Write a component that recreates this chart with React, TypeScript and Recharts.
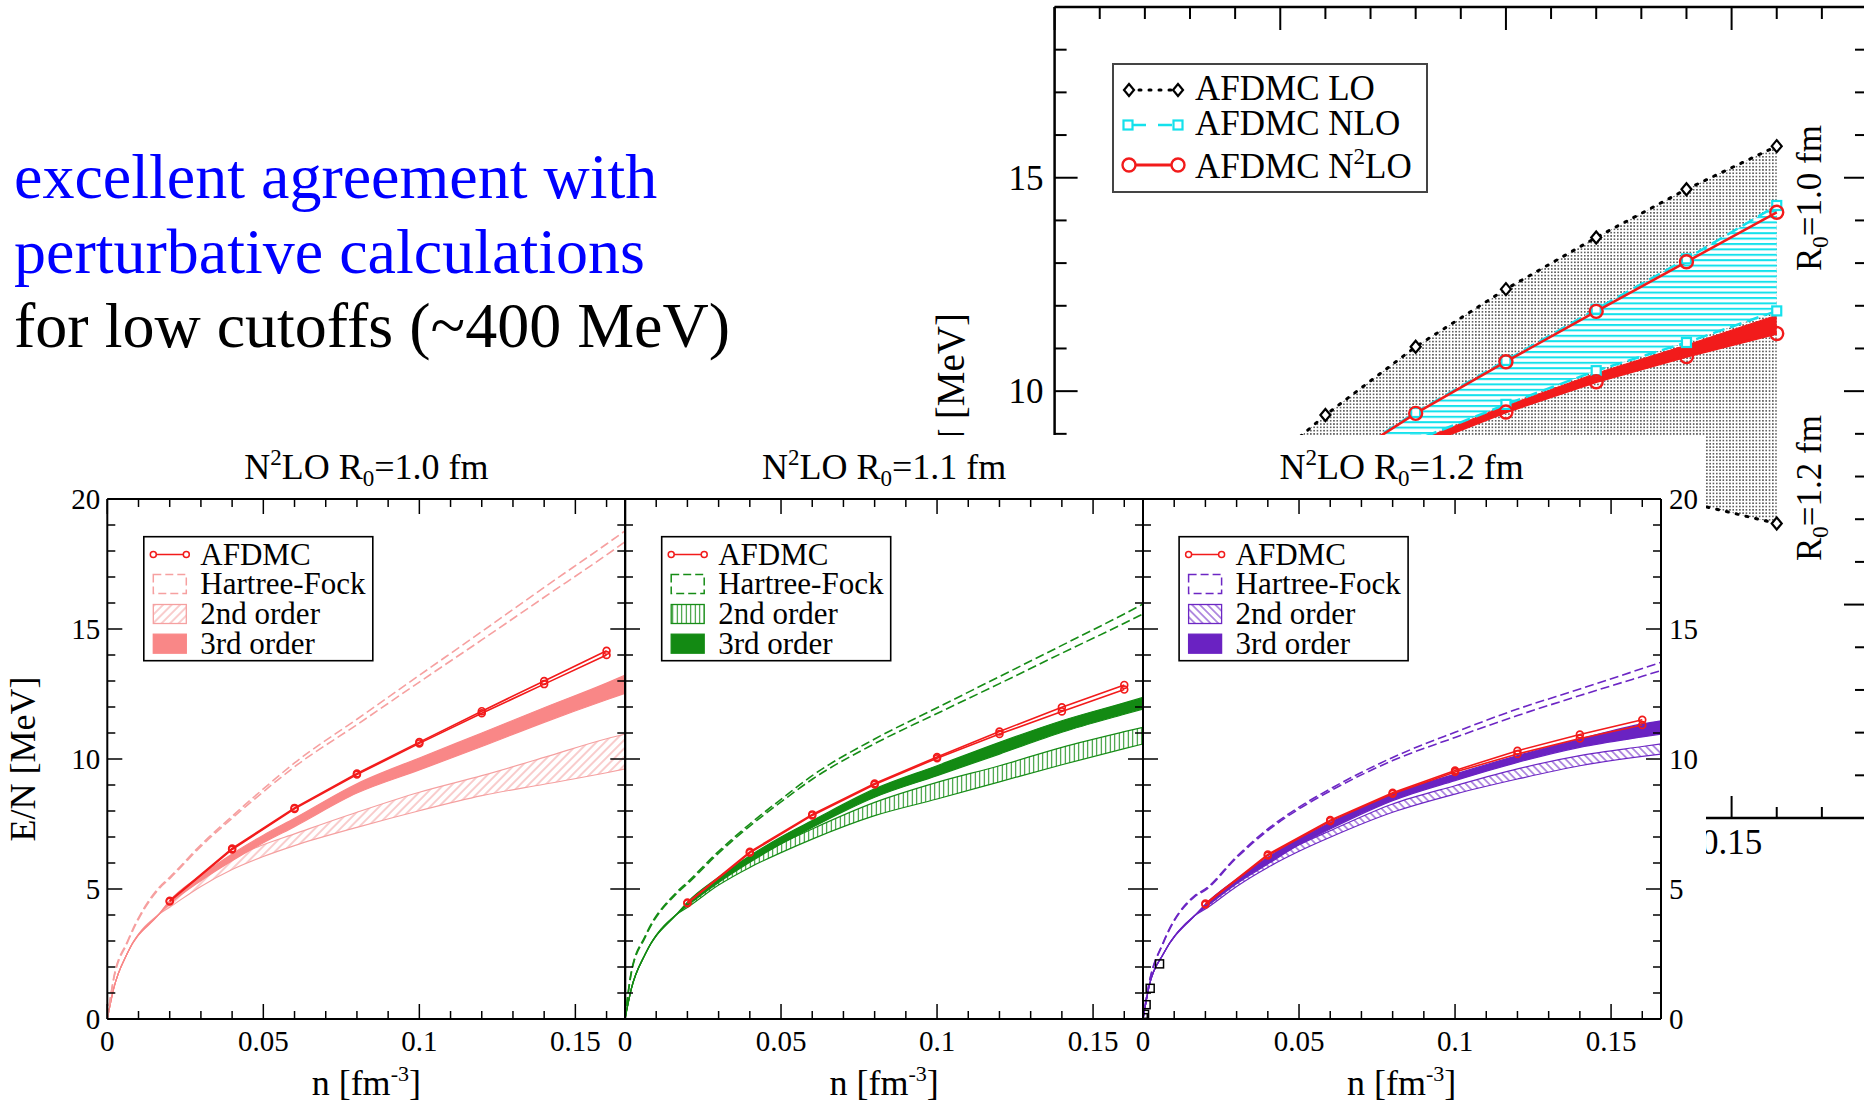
import React from 'react';
import { ComposedChart, Line, Area, XAxis, YAxis } from 'recharts';

const SERIF = '"Liberation Serif", "Times New Roman", Times, serif';

// page geometry
const PAGE_W = 1864;
const PAGE_H = 1105;
const COVER_TOP = 435;
const COVER_RIGHT = 1706;

// bottom panels
const PANEL_LEFTS = [107.3, 625.2, 1142.6];
const PLOT_TOP = 499;
const PLOT_W = 518;
const PLOT_H = 520;

// top-right inset
const INSET_LEFT = 1054.6;
const INSET_TOP = 7;
const INSET_W = 812.4;
const INSET_H = 811;

// axes get a 1px box (a zero-sized axis is not drawn); margins give that pixel back
const AX = 1;

const RED = '#f21b1b';
const CYAN = '#14e1ec';

// ---------- data: bottom panels ----------
const nBand = [0, 0.002, 0.0065, 0.0165, 0.02, 0.03, 0.04, 0.05, 0.06, 0.08, 0.1, 0.12, 0.14, 0.16, 0.166];
const nAfdmc = [0.02, 0.04, 0.06, 0.08, 0.1, 0.12, 0.14, 0.16];

// R0 = 1.0 fm
const hf10Hi = [0, 1.55, 3.0, 5.05, 5.45, 6.7, 7.8, 8.85, 9.85, 11.53, 13.22, 14.9, 16.6, 18.27, 18.78];
const hf10Lo = [0, 1.5, 2.95, 5.0, 5.4, 6.64, 7.72, 8.74, 9.7, 11.32, 12.96, 14.58, 16.22, 17.85, 18.36];
const second10Lo = [0, 1.15, 2.55, 4.02, 4.3, 5.1, 5.75, 6.25, 6.67, 7.37, 8.01, 8.59, 9.03, 9.47, 9.62];
const second10Hi = [0, 1.15, 2.55, 4.02, 4.5, 5.45, 6.2, 6.7, 7.12, 7.95, 8.72, 9.36, 10.06, 10.78, 10.96];
const third10Lo = [0, 1.15, 2.55, 4.02, 4.42, 5.32, 6.09, 6.78, 7.4, 8.69, 9.58, 10.48, 11.41, 12.28, 12.53];
const third10Hi = [0, 1.15, 2.55, 4.02, 4.55, 5.52, 6.35, 7.07, 7.72, 9.05, 10.04, 11.0, 11.97, 12.92, 13.23];
const afdmc10A = [4.55, 6.56, 8.12, 9.44, 10.65, 11.84, 13.0, 14.16];
const afdmc10B = [4.52, 6.52, 8.08, 9.4, 10.6, 11.76, 12.88, 14.0];

// R0 = 1.1 fm
const hf11Hi = [0, 1.8, 3.2, 4.87, 5.26, 6.45, 7.5, 8.45, 9.36, 10.77, 11.97, 13.17, 14.37, 15.58, 15.96];
const hf11Lo = [0, 1.75, 3.15, 4.82, 5.2, 6.38, 7.42, 8.35, 9.22, 10.59, 11.75, 12.9, 14.07, 15.22, 15.58];
const second11Lo = [0, 1.15, 2.5, 4.02, 4.29, 5.15, 5.83, 6.4, 6.92, 7.82, 8.46, 9.12, 9.78, 10.4, 10.58];
const second11Hi = [0, 1.15, 2.5, 4.02, 4.42, 5.35, 6.15, 6.75, 7.31, 8.33, 9.1, 9.74, 10.45, 11.05, 11.22];
const third11Lo = [0, 1.15, 2.5, 4.02, 4.36, 5.25, 6.03, 6.73, 7.37, 8.53, 9.36, 10.19, 11.03, 11.72, 11.92];
const third11Hi = [0, 1.15, 2.5, 4.02, 4.49, 5.45, 6.28, 7.0, 7.63, 8.85, 9.74, 10.64, 11.47, 12.16, 12.37];
const afdmc11A = [4.48, 6.43, 7.87, 9.06, 10.08, 11.06, 11.99, 12.85];
const afdmc11B = [4.45, 6.39, 7.83, 9.02, 10.03, 10.96, 11.83, 12.67];

// R0 = 1.2 fm
const hf12Hi = [0, 1.41, 2.95, 4.74, 5.0, 6.25, 7.31, 8.15, 8.85, 10.06, 11.03, 11.92, 12.69, 13.48, 13.72];
const hf12Lo = [0, 1.38, 2.92, 4.7, 4.96, 6.2, 7.25, 8.08, 8.77, 9.94, 10.83, 11.67, 12.44, 13.18, 13.4];
const second12Lo = [0, 1.28, 2.5, 3.97, 4.23, 5.1, 5.83, 6.45, 6.99, 7.95, 8.65, 9.23, 9.74, 10.1, 10.19];
const second12Hi = [0, 1.28, 2.5, 3.97, 4.36, 5.27, 6.09, 6.7, 7.24, 8.27, 8.97, 9.62, 10.13, 10.48, 10.58];
const third12Lo = [0, 1.28, 2.5, 3.97, 4.29, 5.2, 5.96, 6.7, 7.31, 8.4, 9.17, 9.87, 10.45, 10.85, 10.96];
const third12Hi = [0, 1.28, 2.5, 3.97, 4.42, 5.38, 6.22, 6.93, 7.56, 8.65, 9.42, 10.13, 10.77, 11.35, 11.47];
const afdmc12A = [4.44, 6.33, 7.65, 8.7, 9.56, 10.32, 10.94, 11.51];
const afdmc12B = [4.4, 6.29, 7.61, 8.66, 9.5, 10.19, 10.79, 11.31];
const lowN12 = [0.0001, 0.0005, 0.001, 0.0023, 0.0053];
const lowE12 = [0.05, 0.18, 0.55, 1.18, 2.12];

// ---------- data: inset (AFDMC LO / NLO / N2LO, R0 = 1.0 and 1.2 fm) ----------
const nInset = [0.02, 0.04, 0.06, 0.08, 0.1, 0.12, 0.14, 0.16];
const lo10 = [5.3, 7.64, 9.44, 11.04, 12.39, 13.6, 14.73, 15.74];
const lo12 = [4.1, 5.7, 6.7, 7.3, 7.6, 7.6, 7.4, 6.9];
const nlo10 = [4.6, 6.6, 8.15, 9.5, 10.72, 11.92, 13.1, 14.35];
const nlo12 = [4.4, 6.2, 7.6, 8.85, 9.69, 10.48, 11.14, 11.88];
const n2lo10 = [4.55, 6.56, 8.12, 9.48, 10.69, 11.87, 13.03, 14.19];
const n2lo12 = [4.42, 6.31, 7.63, 8.68, 9.51, 10.22, 10.81, 11.35];
const n2loBandHi = [4.5, 6.4, 7.75, 8.82, 9.66, 10.42, 11.08, 11.78];

// ---------- ticks ----------
const xTicks = [0, 0.01, 0.02, 0.03, 0.04, 0.05, 0.06, 0.07, 0.08, 0.09, 0.1, 0.11, 0.12, 0.13, 0.14, 0.15, 0.16];
const yTicks = [0, 1, 2, 3, 4, 5, 6, 7, 8, 9, 10, 11, 12, 13, 14, 15, 16, 17, 18, 19, 20];
const insetXTicks = [0, 0.01, 0.02, 0.03, 0.04, 0.05, 0.06, 0.07, 0.08, 0.09, 0.1, 0.11, 0.12, 0.13, 0.14, 0.15, 0.16, 0.17, 0.18];
const insetYTicks = [0, 1, 2, 3, 4, 5, 6, 7, 8, 9, 10, 11, 12, 13, 14, 15, 16, 17, 18, 19];

const bandRows = (xs: number[], lo: number[], hi: number[]) => xs.map((n, i) => ({ n, lo: lo[i], hi: hi[i] }));
const pts = (xs: number[], ys: number[]) => xs.map((n, i) => ({ n, e: ys[i] }));
const range = (d: any) => [d.lo, d.hi];

const isMul = (v: number, step: number) => {
  const q = v / step;
  return Math.abs(q - Math.round(q)) < 1e-6;
};

type Side = 'top' | 'bottom' | 'left' | 'right';

// inward ticks (xmgrace style) + optional labels on major ticks
function makeTick(side: Side, step: number, majorLen: number, minorLen: number, label: boolean, fontSize: number, gap: number, sw: number) {
  return (props: any) => {
    const { x, y, payload } = props;
    const v = payload.value;
    const major = isMul(v, step);
    const len = major ? majorLen : minorLen;
    let x2 = x, y2 = y, tx = x, ty = y;
    let anchor: 'middle' | 'end' | 'start' = 'middle';
    if (side === 'bottom') { y2 = y - len; ty = y + gap; }
    else if (side === 'top') { y2 = y + len; }
    else if (side === 'left') { x2 = x + len; tx = x - gap; ty = y + fontSize * 0.34; anchor = 'end'; }
    else { x2 = x - len; tx = x + gap; ty = y + fontSize * 0.34; anchor = 'start'; }
    return (
      <g>
        <line x1={x} y1={y} x2={x2} y2={y2} stroke="#000" strokeWidth={sw} />
        {label && major && (
          <text x={tx} y={ty} textAnchor={anchor} fontSize={fontSize} fontFamily={SERIF} fill="#000">
            {String(v)}
          </text>
        )}
      </g>
    );
  };
}

function Hatch({ id, color, angle, gap, width }: { id: string; color: string; angle: number; gap: number; width: number }) {
  return (
    <pattern id={id} width={gap} height={gap} patternUnits="userSpaceOnUse" patternTransform={`rotate(${angle})`}>
      <line x1={gap / 2} y1={0} x2={gap / 2} y2={gap} stroke={color} strokeWidth={width} />
    </pattern>
  );
}

type PanelCfg = {
  key: string;
  r0: string;
  left: number;
  ml: number;
  mr: number;
  hfColor: string;
  edge2: string;
  hatchColor: string;
  hatchAngle: number;
  hatchGap: number;
  band3: string;
  hfHi: number[];
  hfLo: number[];
  s2Lo: number[];
  s2Hi: number[];
  s3Lo: number[];
  s3Hi: number[];
  afA: number[];
  afB: number[];
  leftLabels: boolean;
  rightLabels: boolean;
  squares?: boolean;
};

const panels: PanelCfg[] = [
  {
    key: 'p10', r0: '1.0', left: PANEL_LEFTS[0], ml: 107.3, mr: 30,
    hfColor: '#f6a0a0', edge2: '#f5a0a0', hatchColor: '#f29a9a', hatchAngle: 45, hatchGap: 6,
    band3: '#f98787',
    hfHi: hf10Hi, hfLo: hf10Lo, s2Lo: second10Lo, s2Hi: second10Hi, s3Lo: third10Lo, s3Hi: third10Hi,
    afA: afdmc10A, afB: afdmc10B, leftLabels: true, rightLabels: false,
  },
  {
    key: 'p11', r0: '1.1', left: PANEL_LEFTS[1], ml: 30, mr: 30,
    hfColor: '#168c16', edge2: '#168c16', hatchColor: '#168c16', hatchAngle: 0, hatchGap: 4.5,
    band3: '#138a13',
    hfHi: hf11Hi, hfLo: hf11Lo, s2Lo: second11Lo, s2Hi: second11Hi, s3Lo: third11Lo, s3Hi: third11Hi,
    afA: afdmc11A, afB: afdmc11B, leftLabels: false, rightLabels: false,
  },
  {
    key: 'p12', r0: '1.2', left: PANEL_LEFTS[2], ml: 30, mr: 60,
    hfColor: '#6c26c4', edge2: '#6c26c4', hatchColor: '#6c26c4', hatchAngle: -45, hatchGap: 5.5,
    band3: '#6a22c2',
    hfHi: hf12Hi, hfLo: hf12Lo, s2Lo: second12Lo, s2Hi: second12Hi, s3Lo: third12Lo, s3Hi: third12Hi,
    afA: afdmc12A, afB: afdmc12B, leftLabels: false, rightLabels: true, squares: true,
  },
];

const afdmcDot = (p: any) => (
  <circle key={`c-${p.index}`} cx={p.cx} cy={p.cy} r={3.4} fill="none" stroke={RED} strokeWidth={1.7} />
);
const blackSquare = (p: any) => (
  <rect key={`s-${p.index}`} x={p.cx - 4} y={p.cy - 4} width={8} height={8} fill="none" stroke="#000" strokeWidth={1.5} />
);

function Panel({ cfg }: { cfg: PanelCfg }) {
  const h = PAGE_H - COVER_TOP;
  const top = PLOT_TOP - COVER_TOP;
  const bottom = h - top - PLOT_H;
  const hatchId = `hatch-${cfg.key}`;
  const axisLine = { stroke: '#000', strokeWidth: 2 };
  return (
    <div style={{ position: 'absolute', left: cfg.left - cfg.ml, top: COVER_TOP }}>
      <ComposedChart width={cfg.ml + PLOT_W + cfg.mr} height={h}
        margin={{ top: top - AX, right: cfg.mr - AX, bottom: bottom - AX, left: cfg.ml - AX }}>
        <defs>
          <Hatch id={hatchId} color={cfg.hatchColor} angle={cfg.hatchAngle} gap={cfg.hatchGap} width={1} />
        </defs>
        <XAxis xAxisId="b" type="number" dataKey="n" domain={[0, 0.166]} allowDataOverflow ticks={xTicks} interval={0}
          height={AX} tickSize={0} tickMargin={0} tickLine={false} axisLine={axisLine}
          tick={makeTick('bottom', 0.05, 15, 8, true, 29, 32, 1.5)} />
        <XAxis xAxisId="t" orientation="top" type="number" dataKey="n" domain={[0, 0.166]} allowDataOverflow ticks={xTicks} interval={0}
          height={AX} tickSize={0} tickMargin={0} tickLine={false} axisLine={axisLine}
          tick={makeTick('top', 0.05, 15, 8, false, 29, 0, 1.5)} />
        <YAxis yAxisId="l" type="number" domain={[0, 20]} allowDataOverflow ticks={yTicks} interval={0}
          width={AX} tickSize={0} tickMargin={0} tickLine={false} axisLine={axisLine}
          tick={makeTick('left', 5, 15, 8, cfg.leftLabels, 29, 7, 1.5)} />
        <YAxis yAxisId="r" orientation="right" type="number" domain={[0, 20]} allowDataOverflow ticks={yTicks} interval={0}
          width={AX} tickSize={0} tickMargin={0} tickLine={false} axisLine={axisLine}
          tick={makeTick('right', 5, 15, 8, cfg.rightLabels, 29, 8, 1.5)} />

        <Area xAxisId="b" yAxisId="l" data={bandRows(nBand, cfg.s2Lo, cfg.s2Hi)} dataKey={range} type="monotone"
          fill={`url(#${hatchId})`} fillOpacity={1} stroke={cfg.edge2} strokeWidth={1.2} dot={false} activeDot={false} isAnimationActive={false} />
        <Area xAxisId="b" yAxisId="l" data={bandRows(nBand, cfg.s3Lo, cfg.s3Hi)} dataKey={range} type="monotone"
          fill={cfg.band3} fillOpacity={1} stroke={cfg.band3} strokeWidth={1.2} dot={false} activeDot={false} isAnimationActive={false} />
        <Line xAxisId="b" yAxisId="l" data={pts(nBand, cfg.hfHi)} dataKey="e" type="monotone" stroke={cfg.hfColor}
          strokeWidth={1.6} strokeDasharray="9 4" dot={false} activeDot={false} isAnimationActive={false} />
        <Line xAxisId="b" yAxisId="l" data={pts(nBand, cfg.hfLo)} dataKey="e" type="monotone" stroke={cfg.hfColor}
          strokeWidth={1.6} strokeDasharray="9 4" dot={false} activeDot={false} isAnimationActive={false} />
        <Line xAxisId="b" yAxisId="l" data={pts(nAfdmc, cfg.afB)} dataKey="e" type="linear" stroke={RED}
          strokeWidth={1.6} dot={afdmcDot} activeDot={false} isAnimationActive={false} />
        <Line xAxisId="b" yAxisId="l" data={pts(nAfdmc, cfg.afA)} dataKey="e" type="linear" stroke={RED}
          strokeWidth={1.6} dot={afdmcDot} activeDot={false} isAnimationActive={false} />
        {cfg.squares && (
          <Line xAxisId="b" yAxisId="l" data={pts(lowN12, lowE12)} dataKey="e" stroke="none"
            dot={blackSquare} activeDot={false} isAnimationActive={false} />
        )}
      </ComposedChart>
    </div>
  );
}

const diamond = (p: any) => (
  <path key={`d-${p.index}`} d={`M${p.cx},${p.cy - 6} L${p.cx + 5},${p.cy} L${p.cx},${p.cy + 6} L${p.cx - 5},${p.cy} Z`}
    fill="#fff" stroke="#000" strokeWidth={2.2} />
);
const cyanSquare = (p: any) => (
  <rect key={`q-${p.index}`} x={p.cx - 4.5} y={p.cy - 4.5} width={9} height={9} fill="#fff" stroke={CYAN} strokeWidth={2.2} />
);
const redCircle = (p: any) => (
  <circle key={`r-${p.index}`} cx={p.cx} cy={p.cy} r={6.5} fill="none" stroke={RED} strokeWidth={2.4} />
);

function Inset() {
  const w = 1000;
  const h = 900;
  const ml = 154.6;
  const mr = w - ml - INSET_W;
  const mb = h - INSET_TOP - INSET_H;
  const axisLine = { stroke: '#000', strokeWidth: 2.5 };
  return (
    <div style={{ position: 'absolute', left: INSET_LEFT - ml, top: 0 }}>
      <ComposedChart width={w} height={h} margin={{ top: INSET_TOP - AX, right: mr - AX, bottom: mb - AX, left: ml - AX }}>
        <defs>
          <pattern id="inset-dots" width={3.3} height={3.3} patternUnits="userSpaceOnUse">
            <rect width={3.3} height={3.3} fill="#fff" />
            <circle cx={1.65} cy={1.65} r={0.78} fill="#1a1a1a" />
          </pattern>
          <pattern id="inset-cyan" width={5.4} height={5.4} patternUnits="userSpaceOnUse">
            <rect width={5.4} height={5.4} fill="#fff" />
            <rect width={5.4} height={2} fill={CYAN} />
          </pattern>
        </defs>
        <XAxis xAxisId="b" type="number" dataKey="n" domain={[0, 0.18]} allowDataOverflow ticks={insetXTicks} interval={0}
          height={AX} tickSize={0} tickMargin={0} tickLine={false} axisLine={axisLine}
          tick={makeTick('bottom', 0.05, 22, 11, true, 35, 36, 2)} />
        <XAxis xAxisId="t" orientation="top" type="number" dataKey="n" domain={[0, 0.18]} allowDataOverflow ticks={insetXTicks} interval={0}
          height={AX} tickSize={0} tickMargin={0} tickLine={false} axisLine={axisLine}
          tick={makeTick('top', 0.05, 23, 12, false, 35, 0, 2)} />
        <YAxis yAxisId="l" type="number" domain={[0, 19]} allowDataOverflow ticks={insetYTicks} interval={0}
          width={AX} tickSize={0} tickMargin={0} tickLine={false} axisLine={axisLine}
          tick={makeTick('left', 5, 23, 12, true, 35, 11, 2)} />
        <YAxis yAxisId="r" orientation="right" type="number" domain={[0, 19]} allowDataOverflow ticks={insetYTicks} interval={0}
          width={AX} tickSize={0} tickMargin={0} tickLine={false} axisLine={axisLine}
          tick={makeTick('right', 5, 23, 12, false, 35, 0, 2)} />

        <Area xAxisId="b" yAxisId="l" data={bandRows(nInset, lo12, lo10)} dataKey={range} type="linear"
          fill="url(#inset-dots)" fillOpacity={1} stroke="none" dot={false} activeDot={false} isAnimationActive={false} />
        <Area xAxisId="b" yAxisId="l" data={bandRows(nInset, nlo12, nlo10)} dataKey={range} type="linear"
          fill="url(#inset-cyan)" fillOpacity={1} stroke="none" dot={false} activeDot={false} isAnimationActive={false} />
        <Area xAxisId="b" yAxisId="l" data={bandRows(nInset, n2lo12, n2loBandHi)} dataKey={range} type="linear"
          fill={RED} fillOpacity={1} stroke={RED} strokeWidth={1} dot={false} activeDot={false} isAnimationActive={false} />

        <Line xAxisId="b" yAxisId="l" data={pts(nInset, lo10)} dataKey="e" type="linear" stroke="#000" strokeWidth={3}
          strokeDasharray="2 8" strokeLinecap="round" dot={diamond} activeDot={false} isAnimationActive={false} />
        <Line xAxisId="b" yAxisId="l" data={pts(nInset, lo12)} dataKey="e" type="linear" stroke="#000" strokeWidth={3}
          strokeDasharray="2 8" strokeLinecap="round" dot={diamond} activeDot={false} isAnimationActive={false} />
        <Line xAxisId="b" yAxisId="l" data={pts(nInset, nlo10)} dataKey="e" type="linear" stroke={CYAN} strokeWidth={2.5}
          strokeDasharray="12 6" dot={cyanSquare} activeDot={false} isAnimationActive={false} />
        <Line xAxisId="b" yAxisId="l" data={pts(nInset, nlo12)} dataKey="e" type="linear" stroke={CYAN} strokeWidth={2.5}
          strokeDasharray="12 6" dot={cyanSquare} activeDot={false} isAnimationActive={false} />
        <Line xAxisId="b" yAxisId="l" data={pts(nInset, n2lo10)} dataKey="e" type="linear" stroke={RED} strokeWidth={2.5}
          dot={redCircle} activeDot={false} isAnimationActive={false} />
        <Line xAxisId="b" yAxisId="l" data={pts(nInset, n2lo12)} dataKey="e" type="linear" stroke={RED} strokeWidth={2.5}
          dot={redCircle} activeDot={false} isAnimationActive={false} />
      </ComposedChart>
    </div>
  );
}

function InsetTexts() {
  const bx = 1113;
  const rows = [90, 125, 165];
  const base = [100, 135, 178];
  return (
    <svg width={PAGE_W} height={PAGE_H} style={{ position: 'absolute', left: 0, top: 0, pointerEvents: 'none' }}
      fontFamily={SERIF}>
      <rect x={bx} y={64} width={314} height={128} fill="#fff" stroke="#444" strokeWidth={2} />
      <line x1={1129} y1={rows[0]} x2={1178} y2={rows[0]} stroke="#000" strokeWidth={3} strokeDasharray="2 8" strokeLinecap="round" />
      <path d={`M1129,${rows[0] - 6} L1134,${rows[0]} L1129,${rows[0] + 6} L1124,${rows[0]} Z`} fill="#fff" stroke="#000" strokeWidth={2.2} />
      <path d={`M1178,${rows[0] - 6} L1183,${rows[0]} L1178,${rows[0] + 6} L1173,${rows[0]} Z`} fill="#fff" stroke="#000" strokeWidth={2.2} />
      <line x1={1128} y1={rows[1]} x2={1178} y2={rows[1]} stroke={CYAN} strokeWidth={2.5} strokeDasharray="14 12" strokeDashoffset={-4} />
      <rect x={1123.5} y={rows[1] - 4.5} width={9} height={9} fill="#fff" stroke={CYAN} strokeWidth={2.2} />
      <rect x={1173.5} y={rows[1] - 4.5} width={9} height={9} fill="#fff" stroke={CYAN} strokeWidth={2.2} />
      <line x1={1129} y1={rows[2]} x2={1178} y2={rows[2]} stroke={RED} strokeWidth={3} />
      <circle cx={1129} cy={rows[2]} r={6.5} fill="#fff" stroke={RED} strokeWidth={2.4} />
      <circle cx={1178} cy={rows[2]} r={6.5} fill="#fff" stroke={RED} strokeWidth={2.4} />
      <text x={1195} y={base[0]} fontSize={35}>AFDMC LO</text>
      <text x={1195} y={base[1]} fontSize={35}>AFDMC NLO</text>
      <text x={1195} y={base[2]} fontSize={35}>
        AFDMC N<tspan dy={-14} fontSize={23}>2</tspan><tspan dy={14}>LO</tspan>
      </text>
      <text transform="translate(964,313) rotate(-90)" textAnchor="end" fontSize={39}>E/N [MeV]</text>
      <text transform="translate(1821,198) rotate(-90)" textAnchor="middle" fontSize={35}>
        R<tspan dy={7} fontSize={23}>0</tspan><tspan dy={-7}>=1.0 fm</tspan>
      </text>
      <text transform="translate(1821,488) rotate(-90)" textAnchor="middle" fontSize={35}>
        R<tspan dy={7} fontSize={23}>0</tspan><tspan dy={-7}>=1.2 fm</tspan>
      </text>
    </svg>
  );
}

function LegendBox({ cfg }: { cfg: PanelCfg }) {
  const bx = cfg.left + 36.5;
  const by = 536.7;
  const rows = [17.8, 47.3, 77.3, 107].map((d) => by + d);
  const sx1 = cfg.left + 46;
  const sx2 = cfg.left + 79;
  const tx = cfg.left + 93;
  const lgHatch = `lg-hatch-${cfg.key}`;
  return (
    <g>
      <defs>
        <Hatch id={lgHatch} color={cfg.hatchColor} angle={cfg.hatchAngle} gap={cfg.hatchGap} width={1} />
      </defs>
      <rect x={bx} y={by} width={229} height={124} fill="#fff" stroke="#000" strokeWidth={1.6} />
      <line x1={sx1} y1={rows[0]} x2={sx2} y2={rows[0]} stroke={RED} strokeWidth={1.6} />
      <circle cx={sx1} cy={rows[0]} r={3} fill="#fff" stroke={RED} strokeWidth={1.5} />
      <circle cx={sx2} cy={rows[0]} r={3} fill="#fff" stroke={RED} strokeWidth={1.5} />
      <rect x={sx1} y={rows[1] - 9.5} width={33} height={19} fill="none" stroke={cfg.hfColor} strokeWidth={1.5} strokeDasharray="8 4" />
      <rect x={sx1} y={rows[2] - 9.5} width={33} height={19} fill={`url(#${lgHatch})`} stroke={cfg.edge2} strokeWidth={1.3} />
      <rect x={sx1} y={rows[3] - 9.5} width={33} height={19} fill={cfg.band3} stroke={cfg.band3} strokeWidth={1.3} />
      <text x={tx} y={rows[0] + 10} fontSize={31}>AFDMC</text>
      <text x={tx} y={rows[1] + 10} fontSize={31}>Hartree-Fock</text>
      <text x={tx} y={rows[2] + 10} fontSize={31}>2nd order</text>
      <text x={tx} y={rows[3] + 10} fontSize={31}>3rd order</text>
    </g>
  );
}

function PanelTexts() {
  return (
    <svg width={PAGE_W} height={PAGE_H} style={{ position: 'absolute', left: 0, top: 0, pointerEvents: 'none' }}
      fontFamily={SERIF} fill="#000">
      {panels.map((cfg) => {
        const cx = cfg.left + PLOT_W / 2;
        return (
          <g key={cfg.key}>
            <text x={cx} y={479} textAnchor="middle" fontSize={36}>
              N<tspan dy={-14} fontSize={23}>2</tspan><tspan dy={14}>LO R</tspan>
              <tspan dy={7} fontSize={23}>0</tspan><tspan dy={-7}>=</tspan>{cfg.r0} fm
            </text>
            <text x={cx} y={1095} textAnchor="middle" fontSize={36}>
              n [fm<tspan dy={-14} fontSize={22}>-3</tspan><tspan dy={14}>]</tspan>
            </text>
            <LegendBox cfg={cfg} />
          </g>
        );
      })}
      <text transform="translate(35,759) rotate(-90)" textAnchor="middle" fontSize={36}>E/N [MeV]</text>
    </svg>
  );
}

function SlideText() {
  return (
    <svg width={800} height={400} style={{ position: 'absolute', left: 0, top: 0 }} fontFamily={SERIF}>
      <text x={14} y={198} fontSize={64} fill="#0000ff">excellent agreement with</text>
      <text x={14} y={273} fontSize={64} fill="#0000ff">perturbative calculations</text>
      <text x={14} y={347} fontSize={64} fill="#000">for low cutoffs (~400 MeV)</text>
    </svg>
  );
}

export default function App() {
  return (
    <div style={{ position: 'fixed', left: 0, top: 0, width: PAGE_W, height: PAGE_H, overflow: 'hidden', background: '#fff', fontFamily: SERIF }}>
      <Inset />
      <InsetTexts />
      <div style={{ position: 'absolute', left: 0, top: COVER_TOP, width: COVER_RIGHT, height: PAGE_H - COVER_TOP, background: '#fff' }} />
      {panels.map((cfg) => (
        <Panel key={cfg.key} cfg={cfg} />
      ))}
      <PanelTexts />
      <SlideText />
    </div>
  );
}
